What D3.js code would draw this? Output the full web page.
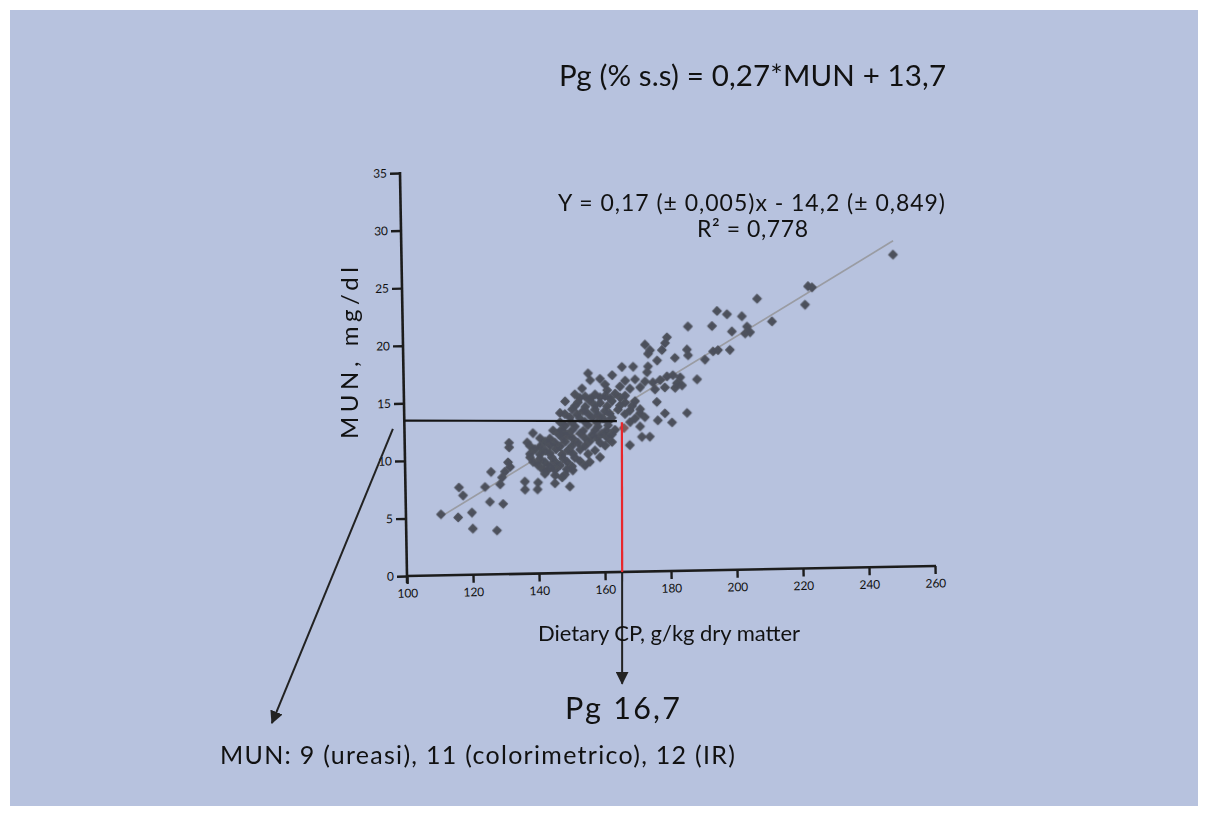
<!DOCTYPE html>
<html>
<head>
<meta charset="utf-8">
<script src="https://d3js.org/d3.v7.min.js"></script>
<style>
  body { margin: 0; background: #ffffff; }
  svg text { font-family: Lato, "Open Sans", sans-serif; fill: #111; }
</style>
</head>
<body>
<script>
// dietary CP (g/kg DM), MUN (mg/dl) - scattered points
var points = [
  [148.8,14.9],[147.2,13.9],[138.9,12.2],[147.4,12.4],[131.6,11.4],[131.6,11.0],[137.1,11.4],[131.2,9.7],
  [131.8,9.3],[130.2,8.9],[126.0,8.9],[129.3,8.4],[128.7,7.8],[124.1,7.6],[116.2,7.6],[117.4,6.9],
  [136.2,8.0],[136.2,7.3],[140.2,7.9],[140.0,7.3],[143.3,9.0],[145.4,8.5],[147.5,8.3],[145.3,7.8],
  [149.8,7.5],[125.5,6.3],[129.5,6.1],[120.0,5.4],[110.6,5.3],[115.8,5.0],[120.2,4.0],[127.5,3.8],
  [195.3,22.5],[186.4,21.2],[193.7,21.2],[173.3,19.7],[174.8,19.2],[174.2,18.9],[180.0,20.3],[179.4,19.8],
  [178.4,19.2],[186.0,19.2],[186.3,18.7],[182.3,18.5],[176.9,18.3],[191.4,18.3],[193.9,19.0],[166.2,17.8],
  [169.6,17.8],[155.9,17.3],[156.5,16.7],[163.2,17.1],[174.1,17.8],[173.8,17.3],[188.9,16.6],[161.0,16.3],
  [161.6,15.8],[154.0,16.0],[182.8,16.3],[182.2,15.9],[175.5,16.4],[177.7,16.6],[179.8,16.9],[181.6,17.0],
  [176.6,14.7],[179.0,13.7],[185.7,13.7],[176.8,13.1],[181.1,12.9],[171.9,11.7],[174.3,11.7],[168.2,11.0],
  [159.1,10.0],[156.0,9.6],[150.8,8.9],
  [248.9,27.1],[223.0,24.5],[224.2,24.4],[222.0,22.9],[207.5,23.5],[198.3,22.2],[202.8,22.0],[211.9,21.5],
  [199.7,20.7],[204.3,21.1],[205.2,20.6],[203.7,20.5],[195.4,19.1],[199.0,19.1],[183.8,16.8],[184.3,16.1]
];

// the dense, merged core of the cloud
var densePoints = [
  [159.5,16.8],[167.1,16.6],[170.1,16.7],[173.1,16.5],
  [165.5,16.1],[168.5,15.9],[171.6,16.0],[176.1,15.8],[179.1,15.95],
  [151.8,15.5],[154.9,15.3],[157.9,15.45],[160.9,15.3],[164.0,15.5],[167.0,15.3],
  [153.3,15.2],[156.4,15.1],[159.4,15.2],[162.4,15.1],[165.5,15.15],
  [152.7,14.8],[156.4,14.9],[159.4,14.7],[163.0,14.85],[167.0,14.7],[170.0,14.8],
  [151.8,14.5],[154.9,14.4],[157.9,14.5],[161.5,14.4],[165.4,14.45],[169.1,14.4],
  [150.9,14.2],[154.2,14.05],[157.8,14.15],[160.8,14.0],[164.8,14.1],[168.4,14.0],[171.5,14.1],
  [148.7,13.8],[152.4,13.75],[155.7,13.8],[158.7,13.7],[162.3,13.75],[166.9,13.7],[171.4,13.75],
  [150.2,13.5],[153.2,13.4],[156.9,13.45],[160.2,13.35],[162.9,13.4],[169.9,13.3],[172.9,13.4],
  [147.2,13.1],[150.8,13.05],[154.7,13.1],[158.4,13.0],[161.7,13.05],[168.4,13.0],
  [148.7,12.8],[151.7,12.7],[155.6,12.8],[158.6,12.65],[161.7,12.75],[171.4,12.6],
  [145.0,12.4],[148.0,12.35],[150.8,12.4],[154.1,12.3],[157.7,12.35],[161.1,12.3],[163.8,12.35],
  [146.5,12.1],[149.5,12.0],[153.2,12.1],[156.8,11.95],[159.8,12.05],[162.8,11.95],
  [141.0,11.75],[144.0,11.7],[147.7,11.75],[151.0,11.65],[154.6,11.7],[158.3,11.65],[161.3,11.7],
  [142.5,11.45],[145.5,11.35],[148.6,11.4],[152.5,11.3],[156.1,11.4],[159.2,11.25],[162.8,11.3],
  [137.9,11.1],[141.0,11.05],[144.0,11.1],[147.0,11.0],[150.7,11.05],[154.6,11.0],[160.7,11.0],
  [139.4,10.8],[142.5,10.65],[145.8,10.75],[149.4,10.65],[153.1,10.7],[157.6,10.6],
  [137.9,10.4],[140.9,10.35],[143.9,10.4],[147.6,10.3],[150.9,10.35],[155.5,10.3],
  [137.9,10.1],[140.9,9.95],[144.5,10.05],[147.9,9.95],[151.5,10.0],
  [138.8,9.7],[142.4,9.65],[145.4,9.7],[149.1,9.65],[153.0,9.7],
  [140.3,9.4],[143.9,9.3],[146.9,9.35],[150.6,9.25],[154.5,9.3],
  [141.8,9.0],[145.4,8.95],[149.0,9.0],
  [142.3,8.65],[148.4,8.55]
];

var markedPoint = [[166.5,12.5]];

var regCp = [110.6, 249];
var regMun = [5.1, 28.3];

var xTicks = [100,120,140,160,180,200,220,240,260];
var yTicks = [0,5,10,15,20,25,30,35];

// annotation lines (cp, mun)
var munLevel = [[100,13.5],[164.4,13.1]];
var redLine = [[165.2,0],[165.9,13.0]];
var downArrow = [[165.2,0],[164.6,-9.7]];
var diagArrow = [[96.5,12.8],[58.3,-12.55]];

var W = 1208, H = 819;
var svg = d3.select("body").append("svg").attr("width", W).attr("height", H);

var defs = svg.append("defs");
defs.append("filter").attr("id", "soft")
  .append("feGaussianBlur").attr("stdDeviation", 0.5);
defs.append("marker")
    .attr("id", "arrow")
    .attr("viewBox", "0 0 12 12")
    .attr("refX", 11).attr("refY", 6)
    .attr("markerWidth", 13).attr("markerHeight", 13)
    .attr("markerUnits", "userSpaceOnUse")
    .attr("orient", "auto")
  .append("path")
    .attr("d", "M0,0L12,6L0,12Z")
    .attr("fill", "#222");

svg.append("rect")
  .attr("x", 10).attr("y", 10)
  .attr("width", 1188).attr("height", 796)
  .attr("fill", "#b7c2de");

var plotW = 528, plotH = 403;
var x = d3.scaleLinear().domain([100, 260]).range([0, plotW]);
var y = d3.scaleLinear().domain([0, 35]).range([plotH, 0]);

// the original plot is slightly slanted
var g = svg.append("g")
  .attr("transform", "matrix(1,-0.01894,0.01737,1,400,173)");

// y axis
var yAx = g.append("g")
  .call(d3.axisLeft(y).tickValues(yTicks).tickSize(10).tickPadding(3).tickSizeOuter(0));
yAx.select(".domain").remove();
g.append("line")
  .attr("x1", 0).attr("x2", 0)
  .attr("y1", y(35) - 1).attr("y2", y(0) + 7)
  .attr("stroke", "#1c1c1c").attr("stroke-width", 2.6);

// x axis
var xAx = g.append("g")
  .attr("transform", "translate(0," + plotH + ")")
  .call(d3.axisBottom(x).tickValues(xTicks).tickSize(8).tickPadding(5).tickSizeOuter(0));
xAx.select(".domain").remove();
g.append("line")
  .attr("x1", x(100)).attr("x2", x(260) + 1)
  .attr("y1", y(0)).attr("y2", y(0))
  .attr("stroke", "#1c1c1c").attr("stroke-width", 2.6);

g.selectAll(".tick line").attr("stroke", "#1c1c1c").attr("stroke-width", 2.4);
g.selectAll(".tick text")
  .style("font-family", "Lato, sans-serif")
  .style("font-size", "12px")
  .attr("fill", "#222");

// regression line
g.append("line")
  .attr("x1", x(regCp[0])).attr("y1", y(regMun[0]))
  .attr("x2", x(regCp[1])).attr("y2", y(regMun[1]))
  .attr("stroke", "#9a9ca3").attr("stroke-width", 1.7);

var sym = d3.symbol(d3.symbolSquare, 33);
var pts = g.append("g").attr("filter", "url(#soft)");
pts.selectAll("path.pt")
  .data(points.concat(densePoints))
  .join("path")
    .attr("class", "pt")
    .attr("d", sym)
    .attr("transform", function (d) { return "translate(" + x(d[0]) + "," + y(d[1]) + ") rotate(45)"; })
    .attr("fill", "#4d515c")
    .attr("stroke", "#4d515c")
    .attr("stroke-width", 1.5)
    .attr("stroke-linejoin", "round");
pts.selectAll("path.mk")
  .data(markedPoint)
  .join("path")
    .attr("class", "mk")
    .attr("d", sym)
    .attr("transform", function (d) { return "translate(" + x(d[0]) + "," + y(d[1]) + ") rotate(45)"; })
    .attr("fill", "#7d5a5c")
    .attr("stroke", "#7d5a5c")
    .attr("stroke-width", 1.5)
    .attr("stroke-linejoin", "round");

var line = d3.line().x(function (d) { return x(d[0]); }).y(function (d) { return y(d[1]); });

g.append("path").datum(munLevel).attr("d", line)
  .attr("stroke", "#151515").attr("stroke-width", 2.2).attr("fill", "none");
g.append("path").datum(redLine).attr("d", line)
  .attr("stroke", "#e8262b").attr("stroke-width", 2.2).attr("fill", "none");
g.append("path").datum(downArrow).attr("d", line)
  .attr("stroke", "#222").attr("stroke-width", 2).attr("fill", "none")
  .attr("marker-end", "url(#arrow)");
g.append("path").datum(diagArrow).attr("d", line)
  .attr("stroke", "#222").attr("stroke-width", 2).attr("fill", "none")
  .attr("marker-end", "url(#arrow)");

// texts (widths matched to the original's wider face)
function label(txt, px, py, size, len, anchor) {
  return svg.append("text")
    .attr("x", px).attr("y", py)
    .attr("text-anchor", anchor || "start")
    .attr("textLength", len)
    .attr("lengthAdjust", "spacing")
    .style("font-size", size + "px")
    .text(txt);
}

label("Pg (% s.s) = 0,27*MUN + 13,7", 559, 86, 29.5, 387);
label("Y = 0,17 (\u00b1 0,005)x - 14,2 (\u00b1 0,849)", 558, 211, 23, 387);
label("R\u00b2 = 0,778", 697, 237, 23, 111);
label("Dietary CP, g/kg dry matter", 538, 641, 22, 262);
label("Pg 16,7", 565, 719, 30.5, 115);
label("MUN: 9 (ureasi), 11 (colorimetrico), 12 (IR)", 220, 764, 25, 515);

svg.append("text")
  .attr("transform", "translate(358,353) rotate(-90)")
  .attr("text-anchor", "middle")
  .attr("textLength", 172)
  .attr("lengthAdjust", "spacing")
  .style("font-size", "24px")
  .text("MUN, mg/dl");
</script>
</body>
</html>
